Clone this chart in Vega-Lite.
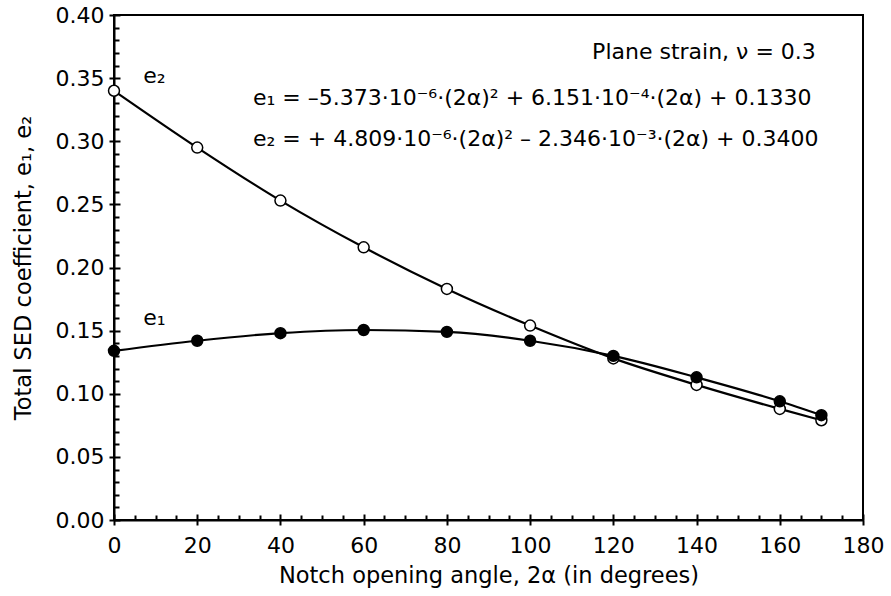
{
  "$schema": "https://vega.github.io/schema/vega-lite/v6.json",
  "width": 749,
  "height": 505,
  "autosize": {"type": "none"},
  "padding": {"left": 114, "top": 15, "right": 28, "bottom": 76},
  "background": "white",
  "config": {
    "font": "DejaVu Sans",
    "view": {"stroke": "black", "strokeWidth": 2},
    "axis": {
      "labelFont": "DejaVu Sans",
      "titleFont": "DejaVu Sans",
      "labelFontSize": 22,
      "titleFontSize": 22.5,
      "titleFontWeight": "normal",
      "labelColor": "black",
      "titleColor": "black",
      "tickColor": "black",
      "domainColor": "black",
      "grid": false
    }
  },
  "datasets": {
    "pts": [
      {"angle": 0, "coef": 0.340, "series": "e2"},
      {"angle": 20, "coef": 0.295, "series": "e2"},
      {"angle": 40, "coef": 0.253, "series": "e2"},
      {"angle": 60, "coef": 0.216, "series": "e2"},
      {"angle": 80, "coef": 0.183, "series": "e2"},
      {"angle": 100, "coef": 0.154, "series": "e2"},
      {"angle": 120, "coef": 0.128, "series": "e2"},
      {"angle": 140, "coef": 0.107, "series": "e2"},
      {"angle": 160, "coef": 0.088, "series": "e2"},
      {"angle": 170, "coef": 0.079, "series": "e2"},
      {"angle": 0, "coef": 0.134, "series": "e1"},
      {"angle": 20, "coef": 0.142, "series": "e1"},
      {"angle": 40, "coef": 0.148, "series": "e1"},
      {"angle": 60, "coef": 0.1505, "series": "e1"},
      {"angle": 80, "coef": 0.149, "series": "e1"},
      {"angle": 100, "coef": 0.142, "series": "e1"},
      {"angle": 120, "coef": 0.130, "series": "e1"},
      {"angle": 140, "coef": 0.113, "series": "e1"},
      {"angle": 160, "coef": 0.094, "series": "e1"},
      {"angle": 170, "coef": 0.083, "series": "e1"}
    ],
    "notes": [
      {"angle": 114.9, "coef": 0.3705, "label": "Plane strain, ν = 0.3"},
      {"angle": 33.4, "coef": 0.334, "label": "e₁ = –5.373·10⁻⁶·(2α)² + 6.151·10⁻⁴·(2α) + 0.1330"},
      {"angle": 33.4, "coef": 0.3015, "label": "e₂ = + 4.809·10⁻⁶·(2α)² – 2.346·10⁻³·(2α) + 0.3400"},
      {"angle": 7.0, "coef": 0.352, "label": "e₂"},
      {"angle": 7.0, "coef": 0.160, "label": "e₁"}
    ]
  },
  "resolve": {"axis": {"x": "independent", "y": "independent"}},
  "layer": [
    {
      "data": {"name": "pts"},
      "mark": {"type": "line", "color": "black", "strokeWidth": 2.2, "interpolate": "monotone"},
      "encoding": {
        "x": {
          "field": "angle", "type": "quantitative",
          "scale": {"domain": [0, 180], "nice": false, "zero": false},
          "axis": {
            "orient": "bottom",
            "values": [0, 20, 40, 60, 80, 100, 120, 140, 160, 180],
            "tickSize": 5, "tickWidth": 2, "domainWidth": 2,
            "labelPadding": 10, "labelFlush": false,
            "title": "Notch opening angle, 2α (in degrees)",
            "titlePadding": 8
          }
        },
        "y": {
          "field": "coef", "type": "quantitative",
          "scale": {"domain": [0, 0.4], "nice": false, "zero": false},
          "axis": {
            "orient": "left",
            "values": [0, 0.05, 0.1, 0.15, 0.2, 0.25, 0.3, 0.35, 0.4],
            "format": ".2f",
            "tickSize": 5, "tickWidth": 2, "domainWidth": 2,
            "labelPadding": 5, "labelFlush": false,
            "title": "Total SED coefficient, e₁, e₂",
            "titlePadding": 20
          }
        },
        "detail": {"field": "series"}
      }
    },
    {
      "data": {"name": "pts"},
      "mark": {"type": "point", "filled": true, "stroke": "black", "strokeWidth": 1.5, "size": 120, "opacity": 1},
      "encoding": {
        "x": {
          "field": "angle", "type": "quantitative",
          "axis": {
            "orient": "bottom",
            "values": [5, 10, 15, 25, 30, 35, 45, 50, 55, 65, 70, 75, 85, 90, 95, 105, 110, 115, 125, 130, 135, 145, 150, 155, 165, 170, 175],
            "tickSize": -5, "tickWidth": 2, "domain": false, "labels": false, "title": null
          }
        },
        "y": {
          "field": "coef", "type": "quantitative",
          "axis": {
            "orient": "left",
            "values": [0.01, 0.02, 0.03, 0.04, 0.06, 0.07, 0.08, 0.09, 0.11, 0.12, 0.13, 0.14, 0.16, 0.17, 0.18, 0.19, 0.21, 0.22, 0.23, 0.24, 0.26, 0.27, 0.28, 0.29, 0.31, 0.32, 0.33, 0.34, 0.36, 0.37, 0.38, 0.39],
            "tickSize": -5, "tickWidth": 2, "domain": false, "labels": false, "title": null
          }
        },
        "fill": {"field": "series", "type": "nominal", "scale": {"domain": ["e1", "e2"], "range": ["black", "white"]}, "legend": null}
      }
    },
    {
      "data": {"name": "notes"},
      "mark": {"type": "text", "align": "left", "baseline": "middle", "fontSize": 22, "color": "black", "font": "DejaVu Sans"},
      "encoding": {
        "x": {
          "field": "angle", "type": "quantitative",
          "axis": {
            "orient": "bottom",
            "values": [0, 20, 40, 60, 80, 100, 120, 140, 160, 180],
            "tickSize": -6, "tickWidth": 2, "domain": false, "labels": false, "title": null
          }
        },
        "y": {
          "field": "coef", "type": "quantitative",
          "axis": {
            "orient": "left",
            "values": [0, 0.05, 0.1, 0.15, 0.2, 0.25, 0.3, 0.35, 0.4],
            "tickSize": -6, "tickWidth": 2, "domain": false, "labels": false, "title": null
          }
        },
        "text": {"field": "label"}
      }
    }
  ]
}
